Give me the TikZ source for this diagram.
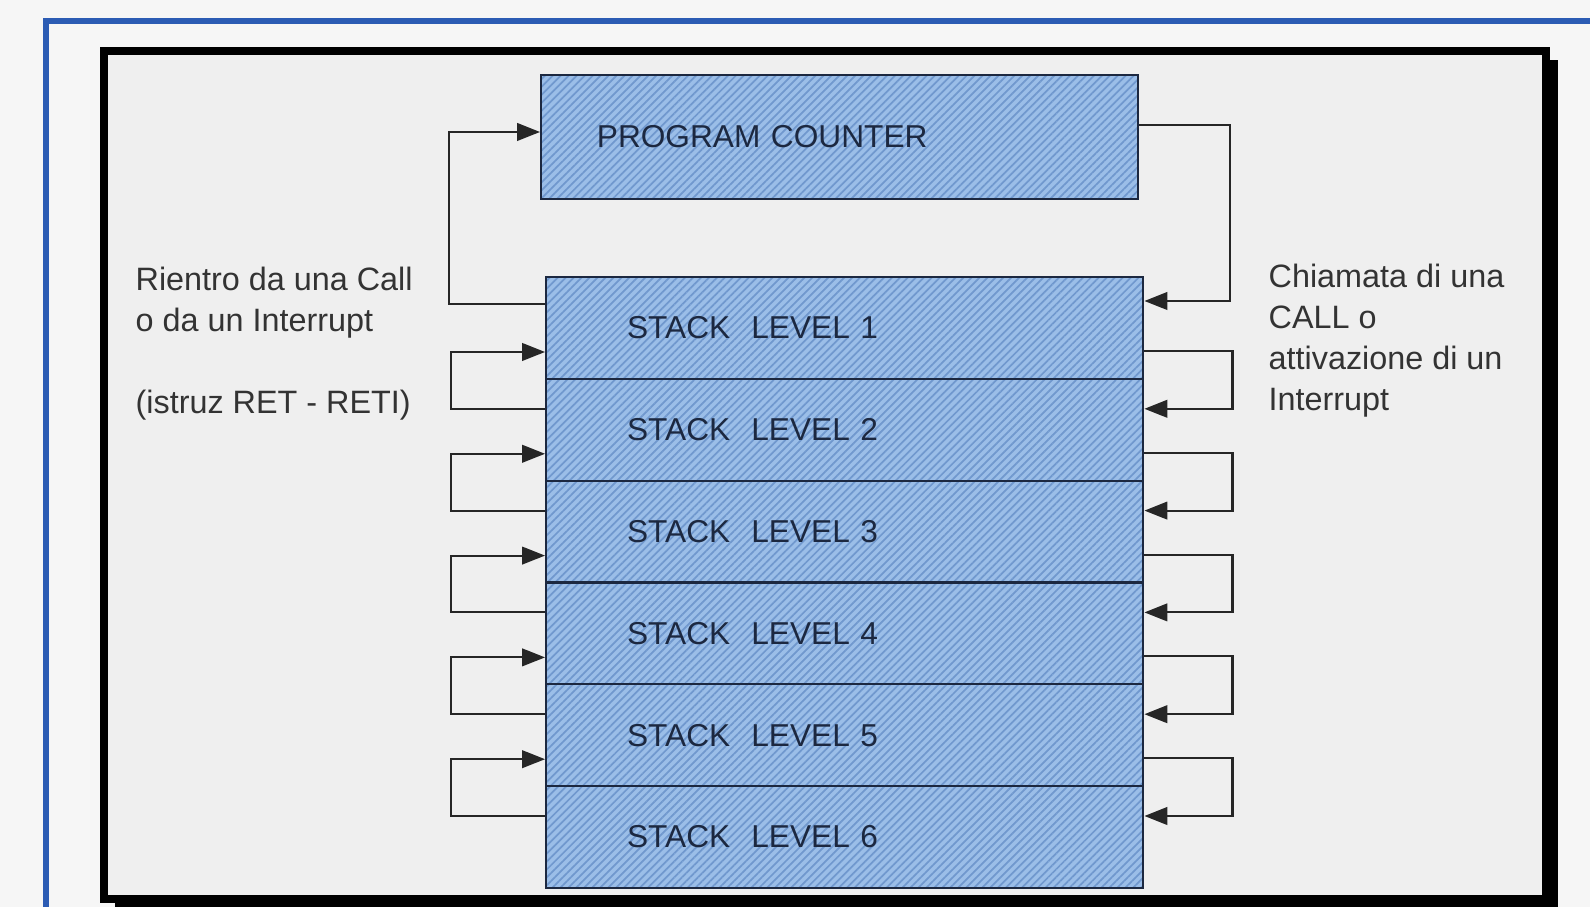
\documentclass[tikz,border=0pt]{standalone}
\usepackage{fontspec}
\setmainfont{Liberation Sans}
\usetikzlibrary{arrows.meta,patterns.meta,calc}
\definecolor{boxblue}{RGB}{155,190,232}
\definecolor{hatchblue}{RGB}{112,152,206}
\definecolor{navy}{RGB}{28,40,64}
\definecolor{frameblue}{RGB}{44,92,180}
\definecolor{paper}{RGB}{246,246,246}
\definecolor{innergray}{RGB}{239,239,239}
\tikzset{gbox/.style={
    rectangle,
    draw=navy,
    line width=0.6pt,
    preaction={fill=boxblue},
    pattern={Lines[angle=45,distance=1.6pt,line width=0.5pt]},
    pattern color=hatchblue,
    anchor=north west,
    minimum width=5.97cm,
    inner ysep=0pt,
    align=left,
    text=navy,
    font=\fontsize{9}{11}\selectfont
  },
  pcbox/.style={gbox,minimum height=1.24cm,inner xsep=0.56cm,text width=4.85cm},
  levbox/.style={gbox,minimum height=1.018cm,inner xsep=0.81cm,text width=4.35cm},
  note/.style={anchor=north west,align=left,inner sep=0pt,text=black!80,
    font=\fontsize{9.2}{11.66}\selectfont},
  link/.style={draw=black!85,line width=0.6pt},
  arr/.style={link,-{Triangle[length=6.5pt,width=5pt]}}
}
\begin{document}
\begin{tikzpicture}[x=0.01cm,y=-0.01cm]
  \useasboundingbox[fill=paper] (0,0) rectangle (1590,907);
  \draw[frameblue,line width=1.5pt] (46,907) |- (1590,21);
  \fill[innergray] (104,51) rectangle (1546,899);
  \draw[line width=2pt] (104,51) rectangle (1546,899);
  \fill (1549,60) rectangle (1558,907);
  \fill (115,899) rectangle (1558,907);

  \node[pcbox] (pc) at (540,74) {PROGRAM COUNTER};
  \foreach \i in {1,...,6}
    \node[levbox] (s\i) at (545,{276+101.8*(\i-1)}) {STACK\ \ LEVEL \i};

  \draw[arr] ($(s1.north west)+(0,28)$) -- ++(-96,0) |- ($(pc.north west)+(0,58)$);
  \draw[arr] ($(pc.north east)+(0,51)$) -- ++(91,0) |- ($(s1.north east)+(0,25)$);
  \foreach \i [evaluate=\i as \j using int(\i+1)] in {1,...,5} {
    \draw[arr] ($(s\j.north west)+(0,31)$) -- ++(-94,0) |- ($(s\i.north west)+(0,76)$);
    \draw[arr] ($(s\i.north east)+(0,75)$) -- ++(88,0) |- ($(s\j.north east)+(0,31)$);
  }

  \node[note] (ret) at (135,266) {Rientro da una Call\\o da un Interrupt\\[11.66pt](istruz RET - RETI)};
  \node[note] (call) at (1268,263) {Chiamata di una\\CALL o\\attivazione di un\\Interrupt};
\end{tikzpicture}
\end{document}
